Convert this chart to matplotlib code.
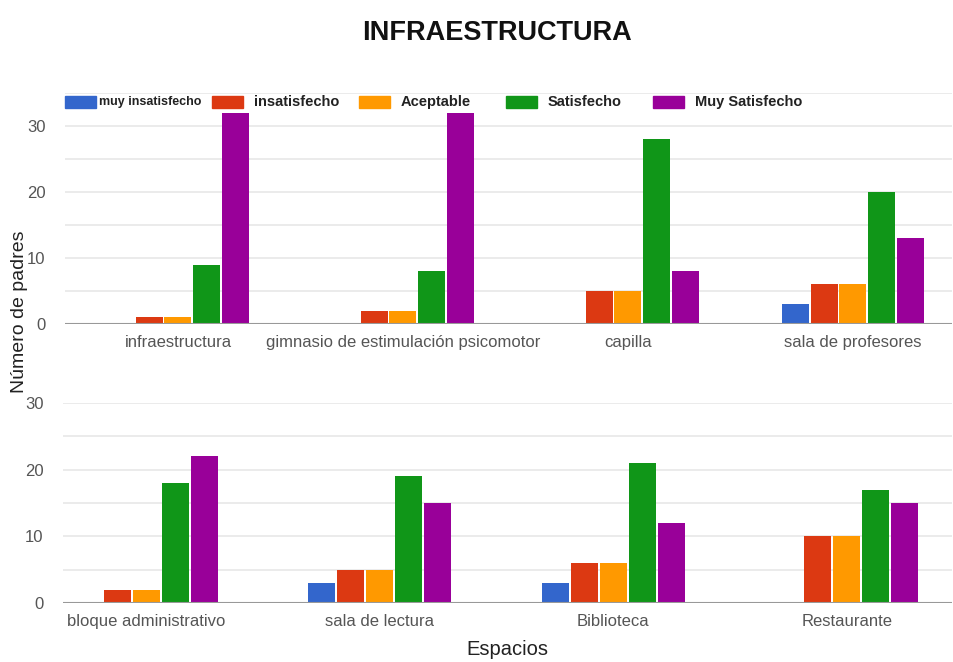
import matplotlib
matplotlib.use("Agg")
import matplotlib.pyplot as plt
from matplotlib.patches import Rectangle
import numpy as np

plt.rcParams['font.family'] = ['Liberation Sans', 'DejaVu Sans']

# datos
series = ["muy insatisfecho", "insatisfecho", "Aceptable", "Satisfecho", "Muy Satisfecho"]
colores = ["#3366CC", "#DC3912", "#FF9900", "#109618", "#990099"]

espacios_arriba = ["infraestructura", "gimnasio de estimulación psicomotor", "capilla", "sala de profesores"]
espacios_abajo = ["bloque administrativo", "sala de lectura", "Biblioteca", "Restaurante"]

muy_insatisfecho = [0, 0, 0, 3, 0, 3, 3, 0]
insatisfecho = [1, 2, 5, 6, 2, 5, 6, 10]
aceptable = [1, 2, 5, 6, 2, 5, 6, 10]
satisfecho = [9, 8, 28, 20, 18, 19, 21, 17]
muy_satisfecho = [32, 32, 8, 13, 22, 15, 12, 15]

valores = [muy_insatisfecho, insatisfecho, aceptable, satisfecho, muy_satisfecho]

fig = plt.figure(figsize=(9.54, 6.62), dpi=100)
W, H = 954, 662

def caja(x0, y0, x1, y1):
    # pixeles -> coordenadas de figura
    return [x0 / W, 1 - y1 / H, (x1 - x0) / W, (y1 - y0) / H]

ax1 = fig.add_axes(caja(65, 93, 952, 324))
ax2 = fig.add_axes(caja(63, 403, 952, 603))

def dibujar(ax, cats, idx, paso, ancho, xlim, ymax):
    x = np.arange(len(cats))
    for i, (vals, c) in enumerate(zip(valores, colores)):
        v = [vals[j] for j in idx]
        ax.bar(x + (i - 2) * paso, v, width=ancho, color=c, zorder=3)
    ax.set_xlim(*xlim)
    ax.set_ylim(0, ymax)
    ax.set_yticks([0, 10, 20, 30])
    ax.set_yticks(np.arange(0, ymax + 0.1, 5), minor=True)
    ax.grid(axis="y", which="both", color="#e8e8e8", linewidth=1.2, zorder=0)
    ax.axhline(0, color="#999999", linewidth=1.5, zorder=4)
    ax.set_xticks(x)
    ax.set_xticklabels(cats, fontsize=12, color="#444444")
    ax.tick_params(axis="both", length=0, labelsize=12, colors="#555555")
    ax.tick_params(axis="y", which="minor", length=0)
    ax.tick_params(axis="y", pad=14)
    ax.tick_params(axis="x", pad=8)
    for s in ax.spines.values():
        s.set_visible(False)

dibujar(ax1, espacios_arriba, [0, 1, 2, 3], 0.127, 0.12, (-0.502, 3.44), 35)
dibujar(ax2, espacios_abajo, [4, 5, 6, 7], 0.124, 0.116, (-0.356, 3.45), 30)
ax2.set_xlabel("Espacios", fontsize=14.5, color="#222222", labelpad=8)

fig.text(497 / W, 1 - 33 / H, "INFRAESTRUCTURA", fontsize=19.5, fontweight="bold",
         ha="center", va="center", color="#111111")
fig.text(20 / W, 1 - 312 / H, "Número de padres", fontsize=14, rotation=90,
         ha="center", va="center", color="#222222")

# leyenda a mano
tamanos = [9, 10.5, 10.5, 10.5, 10.5]
for i, (nombre, c) in enumerate(zip(series, colores)):
    x0 = 65 + i * 147
    fig.patches.append(Rectangle((x0 / W, 1 - 108 / H), 31 / W, 12 / H,
                                 transform=fig.transFigure, color=c, figure=fig))
    fig.text((x0 + 34 + (8 if i > 0 else 0)) / W, 1 - 102 / H, nombre, fontsize=tamanos[i],
             fontweight="bold", va="center", ha="left", color="#222222")

fig.savefig("out.png", dpi=100)
